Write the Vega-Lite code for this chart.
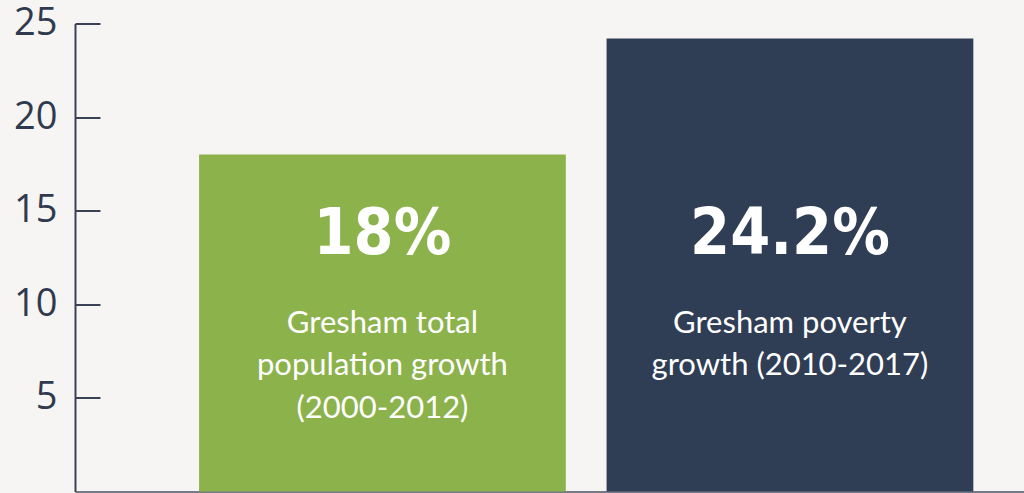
{
  "$schema": "https://vega.github.io/schema/vega-lite/v6.json",
  "width": 949,
  "height": 468,
  "autosize": "none",
  "padding": {"left": 75, "top": 23.5, "right": 0, "bottom": 1.5},
  "background": "#f7f4f4",
  "config": {"view": {"stroke": null}},
  "data": {
    "values": [
      {"category": "Gresham total population growth (2000-2012)", "value": 18, "label": "18%", "desc": ["Gresham total", "population growth", "(2000-2012)"]},
      {"category": "Gresham poverty growth (2010-2017)", "value": 24.2, "label": "24.2%", "desc": ["Gresham poverty", "growth (2010-2017)"]}
    ]
  },
  "encoding": {
    "x": {
      "field": "category",
      "type": "nominal",
      "sort": null,
      "scale": {"paddingInner": 0.1, "paddingOuter": 0.2144, "align": 0.71},
      "axis": {"title": null, "labels": false, "ticks": false, "domainColor": "#4b5263", "domainWidth": 1.5}
    }
  },
  "layer": [
    {
      "mark": {"type": "bar"},
      "encoding": {
        "y": {
          "field": "value",
          "type": "quantitative",
          "scale": {"domain": [0, 25], "nice": false},
          "axis": {
            "title": null,
            "values": [5, 10, 15, 20, 25],
            "grid": false,
            "tickSize": -25,
            "tickWidth": 2,
            "tickColor": "#3a4355",
            "domainWidth": 2,
            "domainColor": "#3a4355",
            "labelFont": "Open Sans",
            "labelFontSize": 38,
            "labelColor": "#2f3a4e",
            "labelPadding": 43
          }
        },
        "color": {
          "field": "category",
          "type": "nominal",
          "scale": {
            "domain": ["Gresham total population growth (2000-2012)", "Gresham poverty growth (2010-2017)"],
            "range": ["#8cb24c", "#2f3d55"]
          },
          "legend": null
        }
      }
    },
    {
      "mark": {"type": "text", "font": "DejaVu Sans Condensed, DejaVu Sans, sans-serif", "fontWeight": "bold", "fontSize": 64, "color": "white", "baseline": "middle"},
      "encoding": {
        "y": {"datum": 13.7, "type": "quantitative"},
        "text": {"field": "label"}
      }
    },
    {
      "mark": {"type": "text", "font": "Lato", "fontSize": 31, "color": "white", "baseline": "top", "lineHeight": 42.5},
      "encoding": {
        "y": {"datum": 9.75, "type": "quantitative"},
        "text": {"field": "desc"}
      }
    }
  ]
}
